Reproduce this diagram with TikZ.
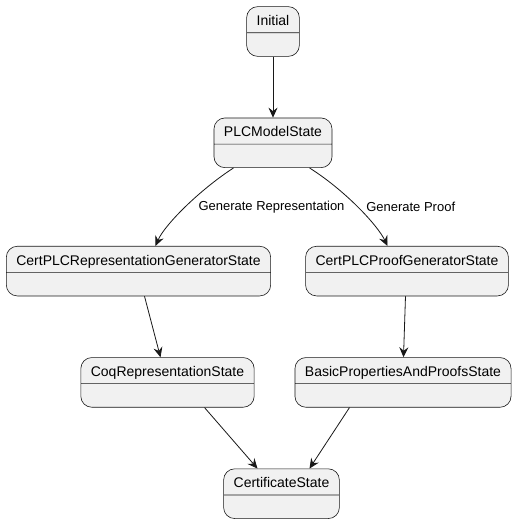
\documentclass[tikz,border=0pt]{standalone}
\usepackage{fontspec}
\setmainfont{Liberation Sans}
\usepackage{tikz}
\usetikzlibrary{arrows.meta,positioning,shapes.multipart}
\definecolor{stfill}{HTML}{F1F1F1}
\definecolor{edge}{HTML}{181818}
\tikzset{
  statebox/.style={rectangle split, rectangle split parts=2, draw=edge, fill=stfill,
              line width=0.6pt, rounded corners=11pt, inner xsep=10pt, inner ysep=6pt,
              font=\fontsize{14}{16}\selectfont, text height=12.5pt, text depth=1pt,
              rectangle split empty part height=8pt, rectangle split empty part depth=3pt},
  trans/.style={-{Stealth[length=10pt, width=9pt, inset=3.5pt]}, draw=edge, line width=0.8pt},
  lbl/.style={font=\fontsize{13}{15}\selectfont, text=black, inner sep=1pt}
}
\begin{document}
\begin{tikzpicture}[x=1pt, y=1pt, node distance=61pt]
 \useasboundingbox[fill=white] (0,0) rectangle (517,-523);
 \node[statebox] (init) at (273,-31.5) {Initial\nodepart{two}};
 \node[statebox, below=61pt of init] (plc) {PLCModelState\nodepart{two}};
 \node[statebox, below=78pt of plc, xshift=-134.5pt] (rep) {CertPLCRepresentationGeneratorState\nodepart{two}};
 \node[statebox, below=78pt of plc, xshift=134pt] (proof) {CertPLCProofGeneratorState\nodepart{two}};
 \node[statebox, below=of rep, xshift=29pt] (coq) {CoqRepresentationState\nodepart{two}};
 \node[statebox, below=of proof, xshift=-4pt] (basic) {BasicPropertiesAndProofsState\nodepart{two}};
 \node[statebox, below=of coq, xshift=114pt] (cert) {CertificateState\nodepart{two}};
 % transitions
 \draw[trans] (init) -- (plc);
 \draw[trans] ([xshift=-39.5pt]plc.south) .. controls +(-34pt,-22pt) and +(9pt,21pt) .. ([xshift=17pt]rep.north)
   node[lbl, pos=0.5, anchor=west, xshift=12pt] (lrep) {Generate Representation};
 \draw[trans] ([xshift=36.5pt]plc.south) .. controls +(35pt,-22pt) and +(-10pt,21pt) .. ([xshift=-19.5pt]proof.north)
   node[lbl, pos=0.5, anchor=west, xshift=7pt] (lproof) {Generate Proof};
 \draw[trans] ([xshift=6pt]rep.south) -- ([xshift=-7pt]coq.north);
 \draw[trans] ([xshift=-1.5pt]proof.south) -- ([xshift=0.5pt]basic.north);
 \draw[trans] ([xshift=37pt]coq.south) -- ([xshift=-24pt]cert.north);
 \draw[trans] ([xshift=-53.5pt]basic.south) -- ([xshift=28pt]cert.north);
\end{tikzpicture}
\end{document}
